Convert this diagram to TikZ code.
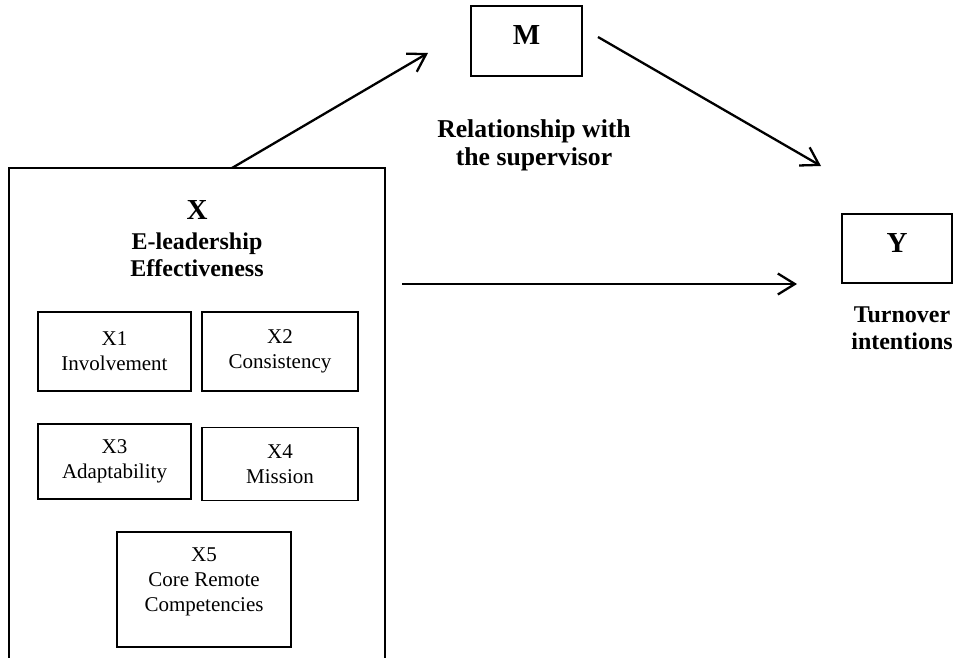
\documentclass[tikz,border=0pt]{standalone}
\usepackage{fontspec}
\setmainfont{Liberation Serif}
\usetikzlibrary{arrows.meta}
\begin{document}
\begin{tikzpicture}[x=1pt,y=-1pt,
  txt/.style={inner sep=0pt,align=center,font=\fontsize{21}{25}\selectfont},
  btxt/.style={inner sep=0pt,align=center,font=\fontsize{24}{27}\selectfont\bfseries},
  reltxt/.style={inner sep=0pt,align=center,font=\fontsize{25.7}{28}\selectfont\bfseries},
  ttl/.style={inner sep=0pt,font=\fontsize{29}{30}\selectfont\bfseries},
  subbox/.style={draw,line width=1.6pt,inner sep=0pt,align=center,font=\fontsize{21}{25}\selectfont},
  varbox/.style={draw,line width=1.4pt,inner sep=0pt,font=\fontsize{29}{30}\selectfont\bfseries,text depth=12pt},
  arr/.style={line width=2.3pt,-{Straight Barb[length=17pt,width=21pt]}}]
\useasboundingbox (0,0) rectangle (963,657);
% big X box (open at the bottom)
\draw[line width=1.3pt] (9,670) -- (9,168) coordinate (xtl) -- (385,168) coordinate (xtr) -- (385,670);
\coordinate (xtop) at (232,168);
\node[ttl] (xlab) at (197,210) {X};
\node[btxt] (xsub) at (197,254.5) {E-leadership\\Effectiveness};
\node[subbox,minimum width=153pt,minimum height=79pt] (x1) at (114.5,351.5) {X1\\Involvement};
\node[subbox,minimum width=156pt,minimum height=79pt] (x2) at (280,351.5) {X2\\Consistency};
\node[subbox,minimum width=153pt,minimum height=75pt] (x3) at (114.5,461.5) {X3\\Adaptability};
\node[subbox,minimum width=156pt,minimum height=73pt] (x4) at (280,464) {X4\\Mission};
\node[subbox,minimum width=174pt,minimum height=115pt] (x5) at (204,589.5) {};
\node[txt] (x5t) at (204,582) {X5\\Core Remote\\Competencies};
% M
\node[varbox,minimum width=111pt,minimum height=70pt] (m) at (526.5,41) {M};
\node[reltxt] (rel) at (534,145) {Relationship with\\the supervisor};
% Y
\node[varbox,minimum width=110pt,minimum height=69pt] (y) at (897,248.5) {Y};
\node[btxt] (turn) at (902,328) {Turnover\\intentions};
% arrows
\coordinate (a1e) at (428,53);
\coordinate (a2s) at (598,37);
\coordinate (a2e) at (821,166);
\coordinate (a3s) at (402,284);
\coordinate (a3e) at (797,284);
\draw[arr] (xtop) -- (a1e);
\draw[arr] (a2s) -- (a2e);
\draw[arr] (a3s) -- (a3e);
\end{tikzpicture}
\end{document}
